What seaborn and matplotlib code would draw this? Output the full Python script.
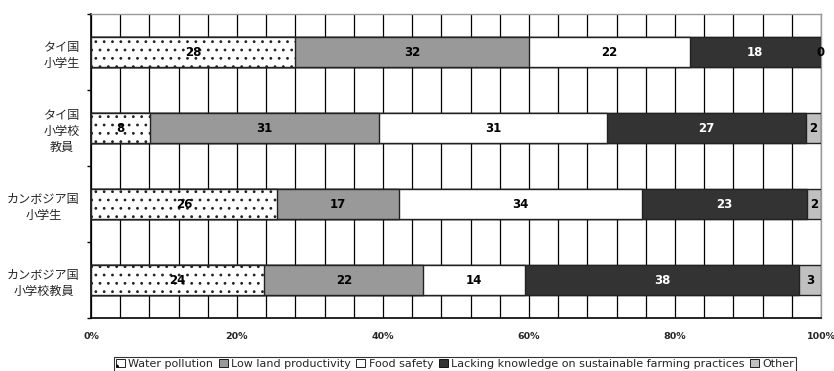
import matplotlib

matplotlib.use("Agg")

import matplotlib.pyplot as plt
import numpy as np
import pandas as pd
import seaborn as sns
from matplotlib.patches import Patch

GROUPS = ["タイ国\n小学生", "タイ国\n小学校\n教員", "カンボジア国\n小学生", "カンボジア国\n小学校教員"]
SERIES = [
    "Water pollution",
    "Low land productivity",
    "Food safety",
    "Lacking knowledge on sustainable farming practices",
    "Other",
]
WATER = [28, 8, 26, 24]
LAND = [32, 31, 17, 22]
FOOD = [22, 31, 34, 14]
KNOWLEDGE = [18, 27, 23, 38]
OTHER = [0, 2, 2, 3]
X_TICKS = [0, 20, 40, 60, 80, 100]

COLORS = ["white", "#999999", "white", "#333333", "#c0c0c0"]
TEXT_COLORS = ["black", "black", "black", "white", "black"]

sns.set_theme(style="white")
plt.rcParams["font.family"] = ["Noto Sans CJK JP", "DejaVu Sans"]
plt.rcParams["hatch.color"] = "#666666"
plt.rcParams["hatch.linewidth"] = 0.8

values = np.array([WATER, LAND, FOOD, KNOWLEDGE, OTHER], dtype=float)
shares = values / values.sum(axis=0) * 100
cum = shares.cumsum(axis=0)

fig = plt.figure(figsize=(8.34, 3.71), dpi=100)
ax = fig.add_axes([91 / 834, 53 / 371, 730 / 834, 304 / 371])

# stacked bars: draw cumulative totals from the right-most series down
for i in range(len(SERIES) - 1, -1, -1):
    df = pd.DataFrame({"group": GROUPS, "cum": cum[i]})
    sns.barplot(
        data=df,
        x="cum",
        y="group",
        order=GROUPS,
        orient="y",
        color=COLORS[i],
        saturation=1,
        width=0.39,
        edgecolor="#222222",
        linewidth=1.0,
        hatch=".." if i == 0 else None,
        ax=ax,
        zorder=3,
    )

# segment labels
for i in range(len(SERIES)):
    start = cum[i] - shares[i]
    for j in range(len(GROUPS)):
        xc = start[j] + shares[i][j] / 2
        if values[i][j] == 0:
            xc = cum[i][j]
        ax.text(xc, j, f"{int(values[i][j])}", ha="center", va="center",
                fontsize=8.5, fontweight="bold", color=TEXT_COLORS[i],
                family="DejaVu Sans", zorder=5)

ax.set_xlim(0, 100)
ax.set_ylim(3.5, -0.5)
ax.set_xticks(X_TICKS)
ax.set_xticklabels([f"{t}%" for t in X_TICKS], fontsize=6.8, fontweight="bold",
                   family="DejaVu Sans")
ax.set_xticks(np.arange(0, 101, 4), minor=True)
ax.grid(axis="x", which="both", color="black", linewidth=0.9, zorder=0)
ax.set_axisbelow(True)
ax.tick_params(axis="x", which="both", length=0, pad=10)

ax.set_yticks(range(len(GROUPS)))
ax.set_yticklabels(GROUPS, fontsize=8.7, linespacing=1.3, ha="right",
                   multialignment="center")
ax.set_yticks(np.arange(-0.5, 4.0, 1.0), minor=True)
ax.tick_params(axis="y", which="major", length=0, pad=8)
ax.tick_params(axis="y", which="minor", length=3, width=1, color="black", left=True)
ax.set_xlabel("")
ax.set_ylabel("")

for side in ["left", "bottom"]:
    ax.spines[side].set_color("black")
    ax.spines[side].set_linewidth(1.2)
for side in ["top", "right"]:
    ax.spines[side].set_color("#999999")
    ax.spines[side].set_linewidth(1.0)

handles = [
    Patch(facecolor=COLORS[i], edgecolor="black", linewidth=0.6,
          hatch="." if i == 0 else None, label=SERIES[i])
    for i in range(len(SERIES))
]
leg = fig.legend(
    handles=handles,
    loc="center",
    bbox_to_anchor=(455 / 834, 1 - 364 / 371),
    ncol=5,
    fontsize=8,
    frameon=True,
    fancybox=False,
    edgecolor="black",
    handlelength=0.8,
    handleheight=0.8,
    handletextpad=0.3,
    columnspacing=0.5,
    borderpad=0.15,
    borderaxespad=0,
)
leg.get_frame().set_linewidth(0.8)
for t in leg.get_texts():
    t.set_family("DejaVu Sans")

fig.savefig("out.png", dpi=100)
